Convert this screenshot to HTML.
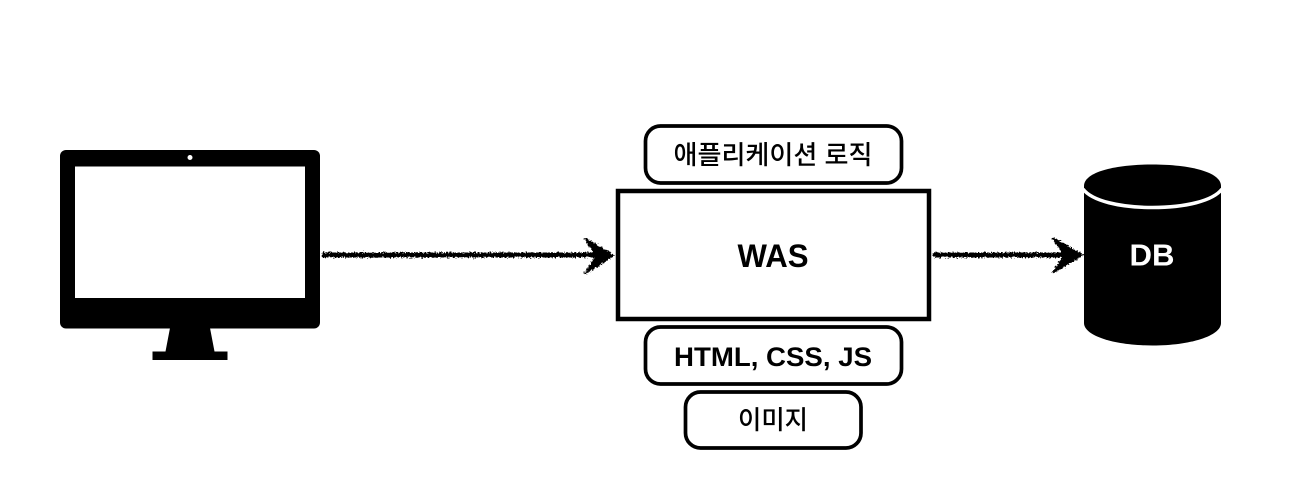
<!DOCTYPE html>
<html><head><meta charset="utf-8"><style>
html,body{margin:0;padding:0;background:#fff;width:1298px;height:496px;overflow:hidden}
svg{display:block}
text{font-family:"Liberation Sans","Noto Sans CJK KR",sans-serif;text-anchor:middle;fill:#000}
</style></head><body>
<svg width="1298" height="496" viewBox="0 0 1298 496" xmlns="http://www.w3.org/2000/svg">
<defs>
<filter id="r" x="-5%" y="-100%" width="110%" height="300%" filterUnits="objectBoundingBox">
<feTurbulence type="fractalNoise" baseFrequency="0.6" numOctaves="2" seed="4" result="n"/>
<feDisplacementMap in="SourceGraphic" in2="n" scale="5" xChannelSelector="R" yChannelSelector="G"/>
</filter>
</defs>
<rect width="1298" height="496" fill="#fff"/>
<!-- monitor -->
<rect x="60" y="150" width="260" height="178.500" rx="6" fill="#000"/>
<rect x="75" y="166.500" width="230" height="131.500" fill="#fff"/>
<circle cx="190" cy="157.500" r="2.500" fill="#fff"/>
<path d="M170 328H210L214.500 351.500H227.500V360H152.500V351.500H165.500Z" fill="#000"/>
<!-- arrows -->
<g filter="url(#r)" fill="#000" stroke="#000">
<path d="M322 255H606" stroke-width="5" fill="none"/>
<path d="M585 238.500L613 255.500L585 273.500L597 255.500Z" stroke-width="2"/>
</g>
<g filter="url(#r)" fill="#000" stroke="#000">
<path d="M933 255H1076" stroke-width="5" fill="none"/>
<path d="M1053 238L1082 255L1053 272.500L1065 255Z" stroke-width="2"/>
</g>
<!-- WAS -->
<rect x="618" y="191" width="311" height="128" fill="#fff" stroke="#000" stroke-width="4.500"/>
<text x="773" y="267" font-size="32" font-weight="700" textLength="71" lengthAdjust="spacingAndGlyphs">WAS</text>
<!-- pills -->
<rect x="645.500" y="126" width="256" height="57" rx="15" fill="#fff" stroke="#000" stroke-width="3.700"/>
<text x="773" y="164" font-size="26" font-weight="500" textLength="199" lengthAdjust="spacingAndGlyphs">애플리케이션 로직</text>
<rect x="645.500" y="327" width="256" height="57" rx="15" fill="#fff" stroke="#000" stroke-width="3.700"/>
<text x="773" y="366" font-size="27" font-weight="700" textLength="198" lengthAdjust="spacingAndGlyphs">HTML, CSS, JS</text>
<rect x="685.500" y="392" width="175.500" height="56" rx="15" fill="#fff" stroke="#000" stroke-width="3.700"/>
<text x="773" y="429" font-size="26" font-weight="500" textLength="70" lengthAdjust="spacingAndGlyphs">이미지</text>
<!-- DB -->
<path d="M1084 186C1084 172 1115 164.500 1152.500 164.500C1190 164.500 1221 172 1221 186V323C1221 336 1190 345.500 1152.500 345.500C1115 345.500 1084 336 1084 323Z" fill="#000"/>
<path d="M1083 189C1092 201 1120 207.500 1152.500 207.500C1185 207.500 1213 201 1222 189" fill="none" stroke="#fff" stroke-width="3.500"/>
<text x="1152" y="265.500" font-size="31" font-weight="700" style="fill:#fff" textLength="45" lengthAdjust="spacingAndGlyphs">DB</text>
</svg>
</body></html>
